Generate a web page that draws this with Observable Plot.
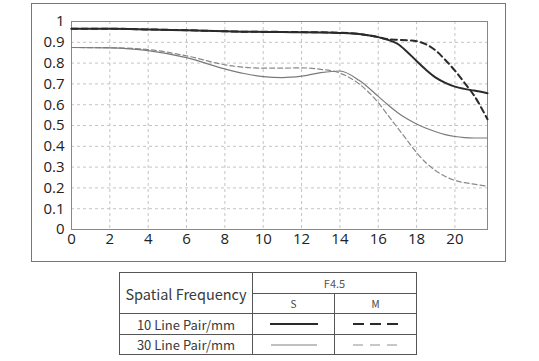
<!DOCTYPE html>
<html>
<head>
<meta charset="utf-8">
<script src="https://cdn.jsdelivr.net/npm/d3@7"></script>
<script src="https://cdn.jsdelivr.net/npm/@observablehq/plot@0.6"></script>
<style>
  body { margin: 0; background: #fff; width: 539px; height: 361px; position: relative; overflow: hidden; }
  #box { position: absolute; left: 31px; top: 3px; width: 473px; height: 257px; border: 1.5px solid #777; pointer-events: none; }
  #chart { position: absolute; left: 0; top: 0; }
  #legend { position: absolute; left: 119px; top: 272px; border-collapse: collapse; font-family: "Noto Sans CJK SC", "Noto Sans", sans-serif; color: #3a3a3a; }
  #legend td { border: 1px solid #555; padding: 0; text-align: center; vertical-align: middle; }
  #legend svg { display: block; margin: 0 auto; }
</style>
</head>
<body>
<div id="chart"></div>
<div id="box"></div>
<table id="legend">
  <tr style="height:21px">
    <td rowspan="2" style="width:132px;font-size:14.5px">Spatial Frequency</td>
    <td colspan="2" style="font-size:11px;color:#555">F4.5</td>
  </tr>
  <tr style="height:20px">
    <td style="width:81px;font-size:10px;color:#444">S</td>
    <td style="width:81px;font-size:10px;color:#444">M</td>
  </tr>
  <tr style="height:21px">
    <td style="font-size:13px">10 Line Pair/mm</td>
    <td><svg width="48" height="4"><line x1="0" y1="2" x2="48" y2="2" stroke="#2a2a2a" stroke-width="2"/></svg></td>
    <td><svg width="45" height="4"><line x1="0" y1="2" x2="45" y2="2" stroke="#2a2a2a" stroke-width="2" stroke-dasharray="11,6"/></svg></td>
  </tr>
  <tr style="height:20px">
    <td style="font-size:13px">30 Line Pair/mm</td>
    <td><svg width="46" height="4"><line x1="0" y1="2" x2="46" y2="2" stroke="#808080" stroke-width="1"/></svg></td>
    <td><svg width="45" height="4"><line x1="0" y1="2" x2="45" y2="2" stroke="#909090" stroke-width="1" stroke-dasharray="10,7"/></svg></td>
  </tr>
</table>
<script>
const xs     = [0, 2, 4, 6, 8, 9, 10, 11, 12, 13, 14, 15, 16, 16.5, 17, 17.5, 18, 18.5, 19, 19.5, 20, 20.5, 21, 21.7];
const s10    = [0.965, 0.965, 0.962, 0.958, 0.953, 0.951, 0.95, 0.949, 0.948, 0.947, 0.945, 0.94, 0.925, 0.912, 0.893, 0.855, 0.81, 0.767, 0.73, 0.705, 0.687, 0.676, 0.668, 0.655];
const m10    = [0.965, 0.965, 0.962, 0.958, 0.953, 0.951, 0.951, 0.95, 0.949, 0.948, 0.946, 0.94, 0.925, 0.915, 0.912, 0.91, 0.905, 0.89, 0.86, 0.815, 0.764, 0.705, 0.644, 0.53];
const s30    = [0.875, 0.873, 0.86, 0.826, 0.772, 0.75, 0.735, 0.73, 0.737, 0.754, 0.762, 0.717, 0.64, 0.6, 0.563, 0.532, 0.507, 0.487, 0.47, 0.456, 0.447, 0.442, 0.44, 0.44];
const m30    = [0.875, 0.874, 0.865, 0.835, 0.792, 0.78, 0.776, 0.776, 0.777, 0.77, 0.752, 0.70, 0.61, 0.55, 0.49, 0.43, 0.37, 0.32, 0.283, 0.255, 0.236, 0.225, 0.218, 0.208];
const xTicks = [0, 2, 4, 6, 8, 10, 12, 14, 16, 18, 20];
const yTicks = [0, 0.1, 0.2, 0.3, 0.4, 0.5, 0.6, 0.7, 0.8, 0.9, 1];
const yLabels = ["0", "0.1", "0.2", "0.3", "0.4", "0.5", "0.6", "0.7", "0.8", "0.9", "1"];

const series = [
  {key: "30M", ys: m30},
  {key: "30S", ys: s30},
  {key: "10M", ys: m10},
  {key: "10S", ys: s10}
];
const rows = series.flatMap(s => xs.map((x, i) => ({key: s.key, x, y: s.ys[i]})));
const styles = {
  "10S": {stroke: "#2a2a2a", strokeWidth: 2},
  "10M": {stroke: "#2a2a2a", strokeWidth: 2, strokeDasharray: "6,4"},
  "30S": {stroke: "#7a7a7a", strokeWidth: 1.2},
  "30M": {stroke: "#8a8a8a", strokeWidth: 1.2, strokeDasharray: "5,3"}
};

const plot = Plot.plot({
  width: 539,
  height: 266,
  marginLeft: 71,
  marginRight: 52,
  marginTop: 21,
  marginBottom: 37,
  style: {fontFamily: "'Open Sans', sans-serif", fontSize: "15px", color: "#222", background: "transparent"},
  x: {domain: [0, 21.7], ticks: xTicks, label: null},
  y: {domain: [0, 1], ticks: yTicks, label: null},
  marks: [
    Plot.gridX(xTicks, {stroke: "#c4c4c4", strokeOpacity: 1, strokeDasharray: "3,3"}),
    Plot.gridY(yTicks, {stroke: "#c4c4c4", strokeOpacity: 1, strokeDasharray: "3,3"}),
    Plot.frame({stroke: "#888"}),
    ...series.map(s => Plot.line(rows.filter(r => r.key === s.key), {x: "x", y: "y", curve: "monotone-x", ...styles[s.key]})),
    Plot.axisX(xTicks, {tickSize: 0, tickPadding: 4, fontSize: 15}),
    Plot.axisY(yTicks, {tickSize: 0, tickPadding: 7, fontSize: 15, tickFormat: (d, i) => yLabels[i]})
  ]
});
document.getElementById("chart").appendChild(plot);
</script>
</body>
</html>
